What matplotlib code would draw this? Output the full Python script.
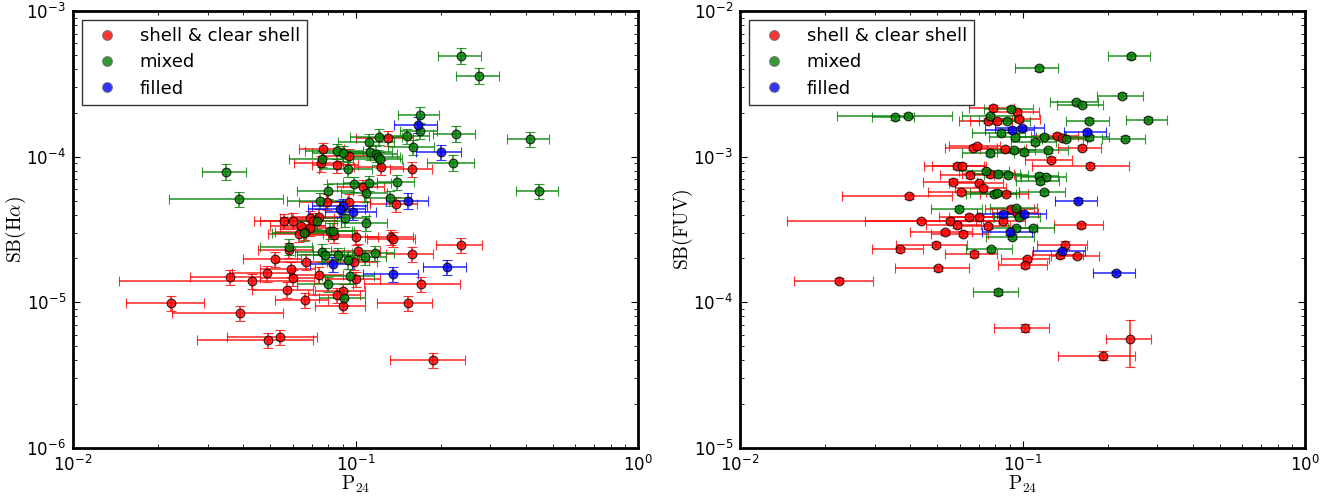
import numpy as np
import matplotlib
matplotlib.use('Agg')
import matplotlib.pyplot as plt
from matplotlib.lines import Line2D

# P24 against H-alpha surface brightness (SB in units of 1e-5)
ha_red_p = [0.130, 0.077, 0.095, 0.086, 0.0755, 0.123, 0.159, 0.106, 0.079, 0.0945,
            0.139, 0.069, 0.100, 0.134, 0.136, 0.0557, 0.060, 0.074, 0.071, 0.064,
            0.069, 0.066, 0.063, 0.084, 0.058, 0.052, 0.067, 0.059, 0.0485, 0.036,
            0.060, 0.043, 0.074, 0.100, 0.057, 0.090, 0.086, 0.066, 0.090, 0.153,
            0.171, 0.236, 0.158, 0.102, 0.099, 0.0222, 0.039, 0.049, 0.054, 0.188]
ha_red_perr = [0.030, 0.014, 0.018, 0.016, 0.015, 0.024, 0.027, 0.020, 0.016, 0.018,
               0.026, 0.015, 0.020, 0.026, 0.026, 0.012, 0.014, 0.015, 0.015, 0.014,
               0.015, 0.014, 0.014, 0.017, 0.013, 0.012, 0.015, 0.013, 0.012, 0.010,
               0.014, 0.0285, 0.016, 0.022, 0.014, 0.018, 0.018, 0.014, 0.018, 0.034,
               0.064, 0.044, 0.030, 0.020, 0.020, 0.0068, 0.0166, 0.0216, 0.019, 0.056]
ha_red_sb = [13.5, 11.2, 10.1, 8.7, 9.0, 8.5, 8.2, 6.2, 4.9, 4.9,
             4.7, 3.8, 2.8, 2.8, 2.7, 3.6, 3.64, 3.88, 3.64, 3.34,
             3.23, 3.06, 2.93, 2.9, 2.29, 1.98, 1.9, 1.70, 1.58, 1.49,
             1.48, 1.40, 1.55, 1.45, 1.22, 1.20, 1.12, 1.03, 0.95, 0.99,
             1.33, 2.48, 2.14, 2.25, 1.89, 0.986, 0.846, 0.549, 0.579, 0.40]
ha_red_sberr = [1.6, 1.3, 1.2, 1.0, 1.1, 1.0, 1.0, 0.75, 0.6, 0.6,
                0.56, 0.45, 0.34, 0.34, 0.32, 0.43, 0.44, 0.47, 0.44, 0.4,
                0.39, 0.37, 0.35, 0.35, 0.28, 0.24, 0.23, 0.2, 0.19, 0.18,
                0.18, 0.17, 0.19, 0.17, 0.15, 0.14, 0.13, 0.12, 0.11, 0.12,
                0.16, 0.3, 0.26, 0.27, 0.23, 0.12, 0.1, 0.066, 0.07, 0.048]

ha_grn_p = [0.237, 0.274, 0.169, 0.169, 0.226, 0.413, 0.152, 0.121, 0.112, 0.160,
            0.221, 0.094, 0.086, 0.090, 0.113, 0.118, 0.120, 0.122, 0.076, 0.140,
            0.099, 0.112, 0.109, 0.080, 0.075, 0.092, 0.132, 0.445, 0.109, 0.0348,
            0.0386, 0.073, 0.081, 0.083, 0.058, 0.076, 0.078, 0.087, 0.094, 0.108,
            0.117, 0.080, 0.096, 0.091, 0.0655]
ha_grn_perr = [0.041, 0.047, 0.028, 0.025, 0.038, 0.070, 0.030, 0.025, 0.025, 0.030,
               0.042, 0.020, 0.020, 0.020, 0.022, 0.022, 0.024, 0.024, 0.018, 0.021,
               0.020, 0.022, 0.020, 0.018, 0.018, 0.020, 0.025, 0.075, 0.020, 0.0062,
               0.0168, 0.016, 0.016, 0.016, 0.012, 0.015, 0.016, 0.016, 0.018, 0.020,
               0.020, 0.018, 0.020, 0.017, 0.015]
ha_grn_sb = [49.3, 36.0, 19.4, 15.0, 14.4, 13.2, 13.9, 13.7, 12.7, 11.7,
             9.1, 8.2, 10.9, 10.6, 10.8, 10.5, 9.9, 9.6, 9.7, 6.7,
             6.5, 6.6, 5.6, 5.8, 5.0, 3.8, 5.2, 5.8, 3.5, 7.9,
             5.1, 3.6, 3.1, 3.1, 2.4, 2.2, 2.1, 2.1, 1.95, 2.05,
             2.17, 1.34, 1.51, 1.07, 2.98]
ha_grn_sberr = [6.0, 4.5, 2.4, 1.8, 1.8, 1.6, 1.7, 1.7, 1.5, 1.4,
                1.1, 1.0, 1.3, 1.3, 1.3, 1.3, 1.2, 1.2, 1.2, 0.8,
                0.8, 0.8, 0.7, 0.7, 0.6, 0.5, 0.6, 0.7, 0.4, 1.0,
                0.6, 0.4, 0.4, 0.4, 0.3, 0.3, 0.25, 0.25, 0.25, 0.25,
                0.25, 0.16, 0.18, 0.13, 0.36]

ha_blu_p = [0.166, 0.200, 0.090, 0.088, 0.098, 0.154, 0.083, 0.136, 0.210]
ha_blu_perr = [0.029, 0.036, 0.020, 0.020, 0.020, 0.026, 0.014, 0.030, 0.036]
ha_blu_sb = [16.6, 10.8, 4.6, 4.4, 4.15, 5.0, 1.84, 1.56, 1.75]
ha_blu_sberr = [2.0, 1.3, 0.55, 0.53, 0.5, 0.6, 0.22, 0.19, 0.21]

# P24 against FUV surface brightness (SB in units of 1e-4)
fuv_red_p = [0.0788, 0.096, 0.097, 0.0755, 0.081, 0.1325, 0.138, 0.067, 0.069, 0.087,
             0.162, 0.126, 0.173, 0.0588, 0.0612, 0.065, 0.077, 0.0568, 0.070, 0.0725,
             0.0604, 0.0876, 0.0396, 0.0914, 0.0958, 0.0648, 0.070, 0.0437, 0.0552, 0.0853,
             0.0585, 0.0755, 0.053, 0.0615, 0.161, 0.0495, 0.0369, 0.0672, 0.141, 0.136,
             0.156, 0.1037, 0.1018, 0.0502, 0.0225, 0.102, 0.241, 0.192]
fuv_red_perr = [0.0143, 0.018, 0.018, 0.016, 0.016, 0.025, 0.026, 0.014, 0.014, 0.016,
                0.028, 0.024, 0.065, 0.014, 0.0133, 0.014, 0.016, 0.0122, 0.015, 0.015,
                0.014, 0.017, 0.0167, 0.018, 0.018, 0.014, 0.015, 0.029, 0.0274, 0.017,
                0.013, 0.015, 0.013, 0.014, 0.032, 0.0139, 0.0075, 0.014, 0.028, 0.028,
                0.030, 0.020, 0.020, 0.0147, 0.007, 0.0225, 0.044, 0.058]
fuv_red_sb = [21.6, 20.2, 18.1, 17.6, 17.5, 13.9, 13.5, 11.5, 11.8, 11.3,
              11.5, 9.54, 8.67, 8.63, 8.63, 7.49, 7.57, 6.74, 6.57, 6.05,
              5.69, 5.57, 5.37, 4.40, 4.13, 3.87, 3.84, 3.62, 3.64, 3.63,
              3.37, 3.34, 3.03, 2.96, 3.38, 2.49, 2.32, 2.15, 2.49, 2.10,
              2.08, 1.97, 1.80, 1.72, 1.41, 0.667, 0.561, 0.431]
fuv_red_sberr = [0.9, 0.8, 0.7, 0.7, 0.7, 0.55, 0.55, 0.46, 0.47, 0.45,
                 0.46, 0.38, 0.35, 0.35, 0.35, 0.3, 0.3, 0.27, 0.26, 0.24,
                 0.23, 0.22, 0.21, 0.18, 0.17, 0.15, 0.15, 0.14, 0.15, 0.15,
                 0.13, 0.13, 0.12, 0.12, 0.13, 0.1, 0.09, 0.09, 0.15, 0.08,
                 0.08, 0.08, 0.07, 0.07, 0.06, 0.04, 0.2, 0.03]

fuv_grn_p = [0.2415, 0.114, 0.225, 0.155, 0.163, 0.278, 0.172, 0.091, 0.077, 0.088,
             0.0393, 0.0353, 0.084, 0.094, 0.119, 0.143, 0.172, 0.231, 0.111, 0.093,
             0.101, 0.123, 0.077, 0.0745, 0.082, 0.089, 0.114, 0.121, 0.115, 0.079,
             0.081, 0.119, 0.0596, 0.095, 0.097, 0.095, 0.109, 0.092, 0.0776, 0.0817]
fuv_grn_perr = [0.041, 0.020, 0.042, 0.030, 0.030, 0.046, 0.030, 0.018, 0.016, 0.018,
                0.0172, 0.006, 0.018, 0.018, 0.022, 0.026, 0.030, 0.040, 0.020, 0.018,
                0.020, 0.022, 0.016, 0.015, 0.016, 0.016, 0.020, 0.022, 0.020, 0.016,
                0.016, 0.022, 0.012, 0.018, 0.018, 0.018, 0.020, 0.018, 0.0145, 0.015]
fuv_grn_sb = [48.9, 40.6, 26.2, 23.7, 22.8, 17.9, 17.6, 21.3, 19.0, 17.7,
              19.1, 18.6, 14.6, 13.7, 13.7, 13.3, 13.6, 13.3, 12.6, 11.1,
              10.7, 11.06, 10.55, 7.97, 7.57, 7.52, 7.41, 7.22, 6.81, 5.57,
              5.66, 5.72, 4.40, 4.42, 3.87, 3.23, 3.23, 2.82, 2.31, 1.18]
fuv_grn_sberr = [2.0, 1.6, 1.0, 0.9, 0.9, 0.7, 0.7, 0.85, 0.75, 0.7,
                 0.75, 0.75, 0.6, 0.55, 0.55, 0.5, 0.55, 0.5, 0.5, 0.45,
                 0.43, 0.44, 0.42, 0.32, 0.3, 0.3, 0.3, 0.29, 0.27, 0.22,
                 0.23, 0.23, 0.18, 0.18, 0.15, 0.13, 0.13, 0.11, 0.09, 0.06]

fuv_blu_p = [0.0916, 0.0996, 0.169, 0.157, 0.085, 0.101, 0.090, 0.138, 0.214]
fuv_blu_perr = [0.018, 0.020, 0.029, 0.027, 0.016, 0.020, 0.018, 0.029, 0.037]
fuv_blu_sb = [15.3, 15.7, 14.7, 4.97, 4.04, 4.04, 3.02, 2.24, 1.59]
fuv_blu_sberr = [0.6, 0.6, 0.6, 0.2, 0.16, 0.16, 0.12, 0.09, 0.06]

labels = ['shell & clear shell', 'mixed', 'filled']
colors = ['r', 'g', 'b']

plt.rcParams['xtick.direction'] = 'in'
plt.rcParams['ytick.direction'] = 'in'
plt.rcParams['xtick.top'] = True
plt.rcParams['ytick.right'] = True
plt.rcParams['xtick.major.size'] = 5
plt.rcParams['ytick.major.size'] = 5
plt.rcParams['xtick.minor.size'] = 3
plt.rcParams['ytick.minor.size'] = 3
plt.rcParams['xtick.labelsize'] = 12
plt.rcParams['ytick.labelsize'] = 12
plt.rcParams['xtick.major.pad'] = 5
plt.rcParams['ytick.major.pad'] = 5


def panel(ax, groups, scale, ylim, ylabel):
    for (p, perr, sb, sberr), c in zip(groups, colors):
        ax.errorbar(p, np.array(sb) * scale, xerr=perr, yerr=np.array(sberr) * scale,
                    fmt='o', color=c, ecolor=c, mec='k', mew=0.8, ms=6.3,
                    alpha=0.8, elinewidth=1.2, capsize=3.5, capthick=1.2)
    ax.set_xscale('log')
    ax.set_yscale('log')
    ax.set_xlim(1e-2, 1e0)
    ax.set_ylim(*ylim)
    ax.set_xlabel(r'$\mathrm{P_{24}}$', fontsize=14, math_fontfamily='cm', labelpad=-1)
    ax.set_ylabel(ylabel, fontsize=14, math_fontfamily='cm', labelpad=-1)
    for s in ax.spines.values():
        s.set_linewidth(2)
    handles = [Line2D([], [], ls='none', marker='o', color=c, mec='0.4', mew=0.8,
                      ms=7, alpha=0.8) for c in colors]
    leg = ax.legend(handles, labels, loc='upper left', numpoints=1, fontsize=13,
                    handlelength=2.0, handletextpad=0.8, borderpad=0.4,
                    labelspacing=0.45, borderaxespad=0.5, fancybox=False)
    leg.get_frame().set_edgecolor('k')
    leg.get_frame().set_linewidth(1.0)


fig = plt.figure(figsize=(13.4, 4.97), dpi=100, facecolor='w')
ax1 = fig.add_axes([73 / 1340, 49 / 497, 565 / 1340, 437 / 497])
ax2 = fig.add_axes([740 / 1340, 49 / 497, 565 / 1340, 437 / 497])

panel(ax1, [(ha_red_p, ha_red_perr, ha_red_sb, ha_red_sberr),
            (ha_grn_p, ha_grn_perr, ha_grn_sb, ha_grn_sberr),
            (ha_blu_p, ha_blu_perr, ha_blu_sb, ha_blu_sberr)],
      1e-5, (1e-6, 1e-3), r'$\mathrm{SB(H\alpha)}$')
panel(ax2, [(fuv_red_p, fuv_red_perr, fuv_red_sb, fuv_red_sberr),
            (fuv_grn_p, fuv_grn_perr, fuv_grn_sb, fuv_grn_sberr),
            (fuv_blu_p, fuv_blu_perr, fuv_blu_sb, fuv_blu_sberr)],
      1e-4, (1e-5, 1e-2), r'$\mathrm{SB(FUV)}$')

fig.savefig('out.png', dpi=100, facecolor='w')
